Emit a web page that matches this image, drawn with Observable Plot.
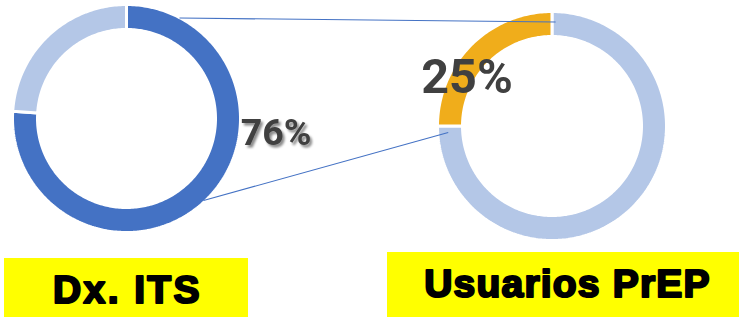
<!DOCTYPE html>
<html>
<head>
<meta charset="utf-8">
<script src="https://cdn.jsdelivr.net/npm/d3@7"></script>
<script src="https://cdn.jsdelivr.net/npm/@observablehq/plot@0.6"></script>
<style>
  html, body { margin: 0; padding: 0; background: #fff; }
</style>
</head>
<body>
<svg width="0" height="0" style="position:absolute">
  <defs>
    <filter id="txtshadow" x="-20%" y="-20%" width="150%" height="150%">
      <feDropShadow dx="2.2" dy="2.6" stdDeviation="1.3" flood-color="#000" flood-opacity="0.45"/>
    </filter>
  </defs>
</svg>
<div id="chart"></div>
<script>
// ---- data ----
const leftNames = ["Dx. ITS", "Resto"];
const leftValues = [76, 24];
const rightNames = ["Resto", "Usuarios PrEP"];
const rightValues = [75, 25];
const boxLabels = ["Dx. ITS", "Usuarios PrEP"];

// ---- layout & styles ----
const W = 739, H = 318;
const leftColors = ["#4472C4", "#B4C7E7"];
const rightColors = ["#B4C7E7", "#F0AD1B"];
const donuts = [
  {cx: 126, cy: 118, R: 114, r: 89},
  {cx: 551.5, cy: 125.5, R: 114.5, r: 89.5}
];
const rad = Math.PI / 180;
function pt(d, radius, a) { return [d.cx + radius * Math.sin(a), d.cy - radius * Math.cos(a)]; }

function ring(names, values, colors, d, tag) {
  const arcs = d3.pie().sort(null)(values);
  const out = [];
  arcs.forEach((arc, i) => {
    const key = tag + i;
    const n = Math.max(8, Math.ceil((arc.endAngle - arc.startAngle) / rad));
    const poly = [];
    for (let k = 0; k <= n; k++) poly.push(pt(d, d.R, arc.startAngle + (arc.endAngle - arc.startAngle) * k / n));
    for (let k = n; k >= 0; k--) poly.push(pt(d, d.r, arc.startAngle + (arc.endAngle - arc.startAngle) * k / n));
    poly.push(poly[0]);
    poly.forEach(([x, y]) => out.push({key, name: names[i], color: colors[i], x, y}));
  });
  return out;
}
const slices = [
  ...ring(leftNames, leftValues, leftColors, donuts[0], "L"),
  ...ring(rightNames, rightValues, rightColors, donuts[1], "R")
];

// connector geometry (angle in degrees clockwise from top, radius)
const connectorSpec = [
  {a1: 27.8, r1: 113.6, a2: 2, r2: 104},
  {a1: 136.8, r1: 112.5, a2: 266.4, r2: 104}
];
const connectors = connectorSpec.map(c => {
  const [x1, y1] = pt(donuts[0], c.r1, c.a1 * rad);
  const [x2, y2] = pt(donuts[1], c.r2, c.a2 * rad);
  return {x1, y1, x2, y2};
});

const pctLeft = [{label: `${leftValues[0]}%`, x: 275.5, y: 132}];
const pctRight = [{label: `${rightValues[1]}%`, x: 466.5, y: 77}];
const boxes = [
  {x1: 4, x2: 248, y1: 258, y2: 317},
  {x1: 387, x2: 739, y1: 252, y2: 317}
];
const boxText = [
  {label: boxLabels[0], x: 127, y: 290.5},
  {label: boxLabels[1], x: 567, y: 284.5}
];

const chart = Plot.plot({
  width: W, height: H,
  margin: 0,
  x: {domain: [0, W], range: [0, W], axis: null},
  y: {domain: [0, H], range: [0, H], axis: null},
  color: {type: "identity"},
  style: {background: "#fff", overflow: "visible"},
  marks: [
    Plot.line(slices, {x: "x", y: "y", z: "key", fill: "color", stroke: "white", strokeWidth: 3, strokeLinejoin: "miter", curve: "linear"}),
    Plot.link(connectors, {x1: "x1", y1: "y1", x2: "x2", y2: "y2", stroke: "#4472C4", strokeWidth: 1.1}),
    Plot.text(pctLeft, {x: "x", y: "y", text: "label", fontSize: 37.5, fill: "#404040", fontWeight: 700, fontFamily: "Roboto", textAnchor: "middle"}),
    Plot.text(pctRight, {x: "x", y: "y", text: "label", fontSize: 48.5, fill: "#404040", fontWeight: 700, fontFamily: "Roboto", textAnchor: "middle"}),
    Plot.rect(boxes, {x1: "x1", x2: "x2", y1: "y1", y2: "y2", fill: "#FFFF00"}),
    Plot.text(boxText, {x: "x", y: "y", text: "label", fontSize: 39, fill: "#000", stroke: "#000", strokeWidth: 2.2, fontWeight: 700, fontFamily: "Liberation Sans", textAnchor: "middle"})
  ]
});
document.getElementById("chart").appendChild(chart);

// post-styling: shadow on left percentage, letter spacing on box labels
const spacing = {[boxLabels[0]]: "2.4px", [boxLabels[1]]: "1.2px"};
d3.select(chart).selectAll("text").each(function () {
  const t = this.textContent;
  if (t === pctLeft[0].label) this.setAttribute("filter", "url(#txtshadow)");
  if (spacing[t]) this.style.letterSpacing = spacing[t];
});
</script>
</body>
</html>
